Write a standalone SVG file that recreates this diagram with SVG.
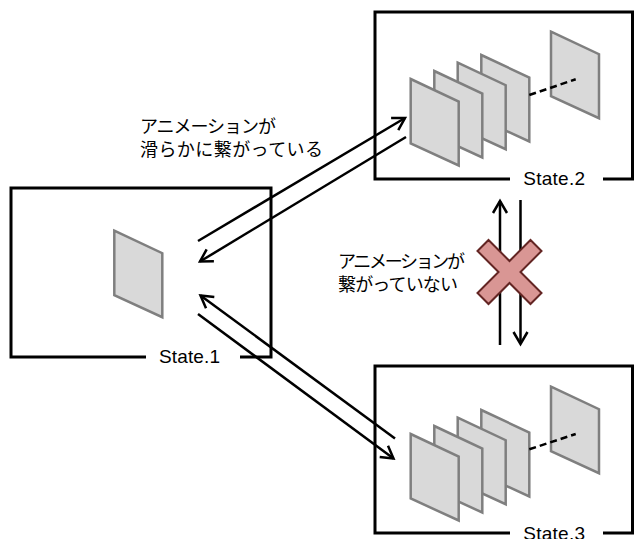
<svg xmlns="http://www.w3.org/2000/svg" xmlns:xlink="http://www.w3.org/1999/xlink" width="634" height="539" viewBox="0 0 634 539">
<style>
.box{fill:none;stroke:#000;stroke-width:3;stroke-linejoin:miter}
.pane{fill:#d9d9d9;stroke:#7f7f7f;stroke-width:2.5;stroke-linejoin:miter}
.dash{stroke:#000;stroke-width:2.5;stroke-dasharray:7 4;fill:none}
.lbl{font-family:"Liberation Sans",Arial,sans-serif;font-size:19px;fill:#000}
.jp{font-family:"Noto Sans CJK JP","Noto Sans",sans-serif;font-size:18px;fill:#000}
.arr{stroke:#000;stroke-width:2.5;fill:none;marker-end:url(#ah)}
.x{fill:#d99694;stroke:#632523;stroke-width:2;stroke-linejoin:miter}
</style>
<defs>
<marker id="ah" markerUnits="userSpaceOnUse" markerWidth="30" markerHeight="30" viewBox="-15 -15 30 30" refX="0" refY="0" orient="auto" overflow="visible">
<path d="M-12,-7 L0,0 L-12,7" fill="none" stroke="#000" stroke-width="2.5"/>
</marker>
<path id="p" d="M0,0 L48,22.5 L48,86.5 L0,64.5 Z"/>
</defs>
<rect width="634" height="539" fill="#fff"/>
<g id="state1">
<path class="box" d="M146,357 L11,357 L11,188 L271,188 L271,357 L240,357"/>
<use xlink:href="#p" class="pane" x="114.3" y="230.7"/>
<text class="lbl" x="159" y="362.7" textLength="61">State.1</text>
</g>
<g id="state2">
<path class="box" d="M510,179 L375,179 L375,12 L632.5,12 L632.5,179 L603,179"/>
<use xlink:href="#p" class="pane" x="551" y="31.7"/>
<use xlink:href="#p" class="pane" x="481.3" y="55"/>
<line class="dash" x1="529.3" y1="95" x2="575.7" y2="79.3"/>
<use xlink:href="#p" class="pane" x="457.7" y="62.7"/>
<use xlink:href="#p" class="pane" x="434.3" y="71"/>
<use xlink:href="#p" class="pane" x="410.7" y="79"/>
<text class="lbl" x="523.3" y="185" textLength="61.7">State.2</text>
</g>
<g id="state3">
<path class="box" d="M510,533 L375,533 L375,366 L632.5,366 L632.5,533 L603,533"/>
<use xlink:href="#p" class="pane" x="551" y="386.7"/>
<use xlink:href="#p" class="pane" x="481.3" y="410"/>
<line class="dash" x1="529.3" y1="449.3" x2="575.7" y2="434"/>
<use xlink:href="#p" class="pane" x="457.7" y="417.7"/>
<use xlink:href="#p" class="pane" x="434.3" y="426"/>
<use xlink:href="#p" class="pane" x="410.7" y="434"/>
<text class="lbl" x="523.3" y="540" textLength="61.7">State.3</text>
</g>
<g id="connectors">
<line class="arr" x1="198" y1="241" x2="405" y2="118"/>
<line class="arr" x1="406" y1="137" x2="200" y2="261.5"/>
<line class="arr" x1="395" y1="438.5" x2="200.5" y2="295.5"/>
<line class="arr" x1="198" y1="314" x2="393.5" y2="458.5"/>
<line class="arr" x1="500" y1="345" x2="500" y2="201"/>
<line class="arr" x1="520.5" y1="200" x2="520.5" y2="344"/>
</g>
<g id="labels">
<text class="jp" x="140" y="133" textLength="136">アニメーションが</text>
<text class="jp" x="140" y="156" textLength="183">滑らかに繋がっている</text>
<text class="jp" x="338" y="268" textLength="127">アニメーションが</text>
<text class="jp" x="338" y="291" textLength="120">繋がっていない</text>
</g>
<g id="cross">
<path class="x" transform="translate(509.5,272)" d="M-32,-21 L-21,-32 L0,-11 L21,-32 L32,-21 L11,0 L32,21 L21,32 L0,11 L-21,32 L-32,21 L-11,0 Z"/>
</g>
</svg>
